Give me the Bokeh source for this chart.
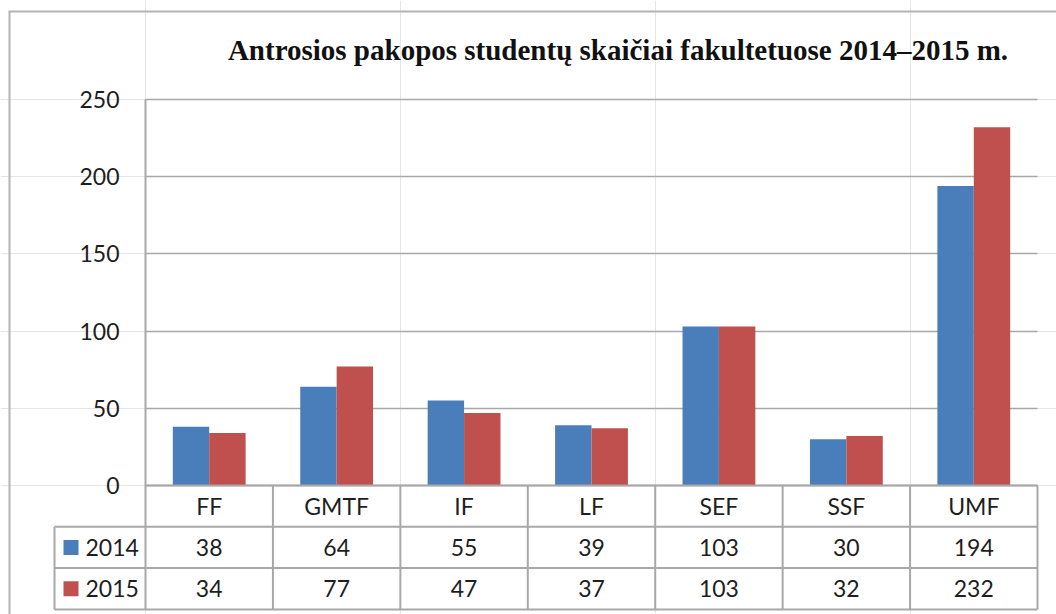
from bokeh.plotting import figure
from bokeh.models import LinearAxis, FixedTicker, Grid, Label, ColumnDataSource, Range1d
from bokeh.core.properties import value
from bokeh.embed import file_html
from bokeh.resources import INLINE

# ---- data ----
categories = ["FF", "GMTF", "IF", "LF", "SEF", "SSF", "UMF"]
series = ["2014", "2015"]
values_2014 = [38, 64, 55, 39, 103, 30, 194]
values_2015 = [34, 77, 47, 37, 103, 32, 232]
y_ticks = [0, 50, 100, 150, 200, 250]
colors = ["#4a7ebb", "#c0504d"]
title_text = "Antrosios pakopos studentų skaičiai fakultetuose 2014–2015 m."

# ---- layout (canvas pixels) ----
W, H = 1056, 614
PLOT_L, PLOT_R = 145, 1037
PLOT_T, PLOT_B = 99, 485
TABLE_L = 54
ROW_H = 41.3
GRID = "#a8a8a8"
TXT = "#1e1e1e"
FONT = "Lato"
FS = "23px"

n = len(categories)
ux = (PLOT_R - PLOT_L) / n
uy = (PLOT_B - PLOT_T) / y_ticks[-1]


def X(px):
    return (px - PLOT_L) / ux


def Y(py):
    return (PLOT_B - py) / uy


p = figure(width=W, height=H, x_range=Range1d(X(0), X(W)), y_range=Range1d(Y(H), Y(0)),
           output_backend="svg", toolbar_location=None, x_axis_location=None,
           y_axis_location=None, min_border=0, outline_line_color=None)
p.background_fill_color = "white"
p.border_fill_color = "white"

# grid
grid = Grid(dimension=1, ticker=FixedTicker(ticks=y_ticks), bounds=(y_ticks[0], y_ticks[-1]),
            cross_bounds=(0, n), grid_line_color=GRID, grid_line_width=1.5)
p.add_layout(grid)

# bars
bw = 1 / 3.5
src = ColumnDataSource(dict(
    x1=[i + 0.5 - bw / 2 for i in range(n)],
    x2=[i + 0.5 + bw / 2 for i in range(n)],
    v1=values_2014, v2=values_2015,
))
p.vbar(x="x1", top="v1", width=bw, bottom=0, source=src, fill_color=colors[0], line_color=None)
p.vbar(x="x2", top="v2", width=bw, bottom=0, source=src, fill_color=colors[1], line_color=None)

# y axis
yaxis = LinearAxis(fixed_location=0, ticker=FixedTicker(ticks=y_ticks), bounds=(y_ticks[0], y_ticks[-1]),
                   axis_line_color=GRID, axis_line_width=2,
                   major_tick_out=0, major_tick_in=0, minor_tick_out=0, minor_tick_in=0,
                   major_label_standoff=26, major_label_text_font=FONT,
                   major_label_text_font_size=FS, major_label_text_color=TXT)
p.add_layout(yaxis, "left")

# data table
rows = [PLOT_B + k * ROW_H for k in range(4)]
seg_x0, seg_y0, seg_x1, seg_y1 = [], [], [], []
seg_x0.append(0); seg_x1.append(n); seg_y0.append(Y(rows[0])); seg_y1.append(Y(rows[0]))
for r in rows[1:]:
    seg_x0.append(X(TABLE_L)); seg_x1.append(n); seg_y0.append(Y(r)); seg_y1.append(Y(r))
for i in range(n + 1):
    seg_x0.append(i); seg_x1.append(i); seg_y0.append(Y(rows[0])); seg_y1.append(Y(rows[-1]))
seg_x0.append(X(TABLE_L)); seg_x1.append(X(TABLE_L)); seg_y0.append(Y(rows[1])); seg_y1.append(Y(rows[-1]))
p.segment(x0=seg_x0, y0=seg_y0, x1=seg_x1, y1=seg_y1, line_color=GRID, line_width=2)

# chart border
p.segment(x0=[X(9), X(8)], y0=[Y(11), Y(11)], x1=[X(9), X(W)], y1=[Y(H), Y(11)],
          line_color="#b4b4b4", line_width=2)

cx = [i + 0.5 for i in range(n)]
mid = [Y(r + ROW_H / 2) for r in rows[:3]]
p.text(x=cx, y=[mid[0]] * n, text=categories, text_align="center", text_baseline="middle",
       text_font=value(FONT), text_font_size=FS, text_color=TXT)
p.text(x=cx, y=[mid[1]] * n, text=[str(v) for v in values_2014], text_align="center",
       text_baseline="middle", text_font=value(FONT), text_font_size=FS, text_color=TXT)
p.text(x=cx, y=[mid[2]] * n, text=[str(v) for v in values_2015], text_align="center",
       text_baseline="middle", text_font=value(FONT), text_font_size=FS, text_color=TXT)

# legend keys in table
p.scatter(x=[X(70.5)] * 2, y=mid[1:], marker="square", size=15, fill_color=colors, line_color=None)
p.text(x=[X(85)] * 2, y=mid[1:], text=series, text_align="left", text_baseline="middle",
       text_font=value(FONT), text_font_size=FS, text_color=TXT)

# title
p.add_layout(Label(x=X(617.5), y=Y(49), text=title_text, text_align="center",
                   text_baseline="alphabetic", text_font="Liberation Serif",
                   text_font_style="bold", text_font_size="29px", text_color="#111111"))

open("out.html", "w").write(file_html(p, INLINE))
